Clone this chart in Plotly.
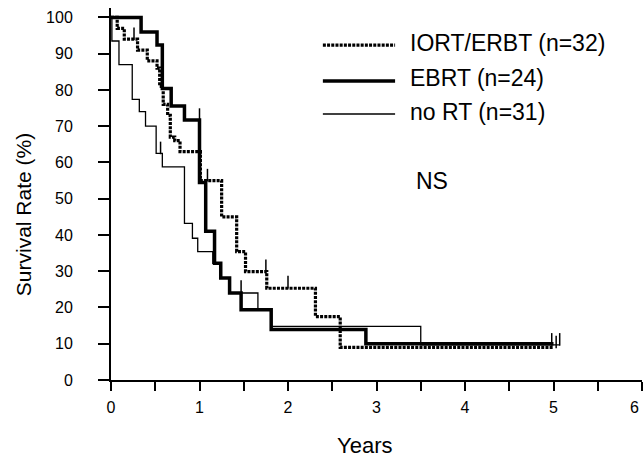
import plotly.graph_objects as go

# ---- data (Kaplan-Meier steps) ----
iort_t = [0, 0.07, 0.15, 0.30, 0.41, 0.52, 0.55, 0.59, 0.64, 0.67, 0.72, 0.78, 1.01, 1.25, 1.42, 1.52, 1.76, 2.31, 2.59, 5.00]
iort_s = [100, 97, 94, 91, 88, 86, 81, 76, 73, 67, 66, 63, 55, 45, 35.4, 29.9, 25.3, 17.5, 9.0, 9.0]

ebrt_t = [0, 0.34, 0.52, 0.58, 0.68, 0.83, 1.00, 1.07, 1.17, 1.24, 1.34, 1.47, 1.81, 2.88, 5.00]
ebrt_s = [100, 96, 92.4, 80.4, 75.6, 71.7, 54.5, 41, 32.2, 28.1, 24, 19.4, 13.9, 10.0, 10.0]

nort_t = [0, 0.01, 0.09, 0.24, 0.32, 0.39, 0.51, 0.58, 0.83, 0.92, 0.98, 1.15, 1.24, 1.34, 1.66, 1.81, 3.50, 5.07]
nort_s = [100, 93.5, 87, 77.4, 74, 70, 62.5, 58.8, 43.2, 39.1, 35.4, 32.2, 28.1, 24, 19.4, 14.8, 9.7, 9.7]

# censor ticks (time, tick-centre value)
iort_cens_t = [0.26, 1.09, 1.75, 2.00, 5.03]
iort_cens_s = [95.5, 56.5, 31.5, 27.0, 10.5]
ebrt_cens_t = [1.00, 4.98]
ebrt_cens_s = [73.2, 11.2]
nort_cens_t = [0.56, 1.47, 5.07]
nort_cens_s = [64.0, 25.8, 11.2]

legend_labels = ["IORT/ERBT (n=32)", "EBRT (n=24)", "no RT (n=31)"]
x_ticks = [0, 1, 2, 3, 4, 5, 6]
y_ticks = [0, 10, 20, 30, 40, 50, 60, 70, 80, 90, 100]

FONT = "Liberation Sans, Arial, Helvetica, sans-serif"
IORT_LINE = dict(color="black", width=3.2, dash="3px,1.2px")
EBRT_LINE = dict(color="black", width=3.5)
NORT_LINE = dict(color="black", width=1.3)

fig = go.Figure()
fig.add_trace(go.Scatter(x=nort_t, y=nort_s, mode="lines", line=NORT_LINE, line_shape="hv", name=legend_labels[2]))
fig.add_trace(go.Scatter(x=ebrt_t, y=ebrt_s, mode="lines", line=EBRT_LINE, line_shape="hv", name=legend_labels[1]))
fig.add_trace(go.Scatter(x=iort_t, y=iort_s, mode="lines", line=IORT_LINE, line_shape="hv", name=legend_labels[0]))

for ct, cs in [(iort_cens_t, iort_cens_s), (ebrt_cens_t, ebrt_cens_s), (nort_cens_t, nort_cens_s)]:
    fig.add_trace(go.Scatter(x=ct, y=cs, mode="markers",
                             marker=dict(symbol="line-ns", size=9, line=dict(color="black", width=1.5)),
                             showlegend=False, hoverinfo="skip"))

# manual legend (line sample + text)
leg_y_line = [0.900, 0.804, 0.715]
leg_y_text = [0.906, 0.812, 0.720]
leg_styles = [IORT_LINE, EBRT_LINE, NORT_LINE]
for lbl, yl, yt, st in zip(legend_labels, leg_y_line, leg_y_text, leg_styles):
    fig.add_shape(type="line", xref="paper", yref="paper", x0=0.399, x1=0.535, y0=yl, y1=yl, line=st)
    fig.add_annotation(xref="paper", yref="paper", x=0.559, y=yt, text=lbl, showarrow=False,
                       xanchor="left", yanchor="middle", font=dict(family=FONT, size=23, color="black"))

fig.add_annotation(xref="paper", yref="paper", x=0.6045, y=0.535, text="NS", showarrow=False,
                   xanchor="center", yanchor="middle", font=dict(family=FONT, size=23, color="black"))
fig.add_annotation(xref="paper", yref="paper", x=-0.165, y=0.444, text="Survival Rate (%)", showarrow=False,
                   textangle=-90, xanchor="center", yanchor="middle", font=dict(family=FONT, size=21, color="black"))
fig.add_annotation(xref="paper", yref="paper", x=0.478, y=-0.175, text="Years", showarrow=False,
                   xanchor="center", yanchor="middle", font=dict(family=FONT, size=22, color="black"))

# last x tick label sits at the right edge: draw it right-anchored so it stays inside the window
x_labels = [str(v) for v in x_ticks]
fig.add_annotation(xref="x", yref="paper", x=x_ticks[-1], y=0, yshift=-27, xshift=-1, text=x_labels[-1],
                   showarrow=False, xanchor="right", yanchor="middle", font=dict(family=FONT, size=16, color="black"))
x_labels[-1] = ""

fig.update_layout(
    width=644, height=469,
    margin=dict(l=111, r=2, t=8, b=89),
    paper_bgcolor="white", plot_bgcolor="white",
    showlegend=False,
    font=dict(family=FONT, color="black", size=16),
)
fig.update_xaxes(range=[0, 6], tickvals=x_ticks, ticktext=x_labels,
                 showgrid=False, zeroline=False, showline=True, linecolor="black", linewidth=2,
                 ticks="outside", ticklen=9, tickwidth=2, tickcolor="black", ticklabelstandoff=3,
                 minor=dict(dtick=0.5, tick0=0, ticks="outside", ticklen=9, tickwidth=2, tickcolor="black"),
                 tickfont=dict(family=FONT, size=16, color="black"))
fig.update_yaxes(range=[0, 102.6], tickvals=y_ticks, ticktext=[str(v) for v in y_ticks],
                 showgrid=False, zeroline=False, showline=True, linecolor="black", linewidth=2,
                 ticks="outside", ticklen=11, tickwidth=2, tickcolor="black", ticklabelstandoff=22,
                 tickfont=dict(family=FONT, size=16, color="black"))

# remove the browser's default 8px body margin so the figure fills the window exactly
fig.write_html("out.html", config={"displayModeBar": False},
               post_script="document.body.style.margin='0';document.body.style.overflow='hidden';")
